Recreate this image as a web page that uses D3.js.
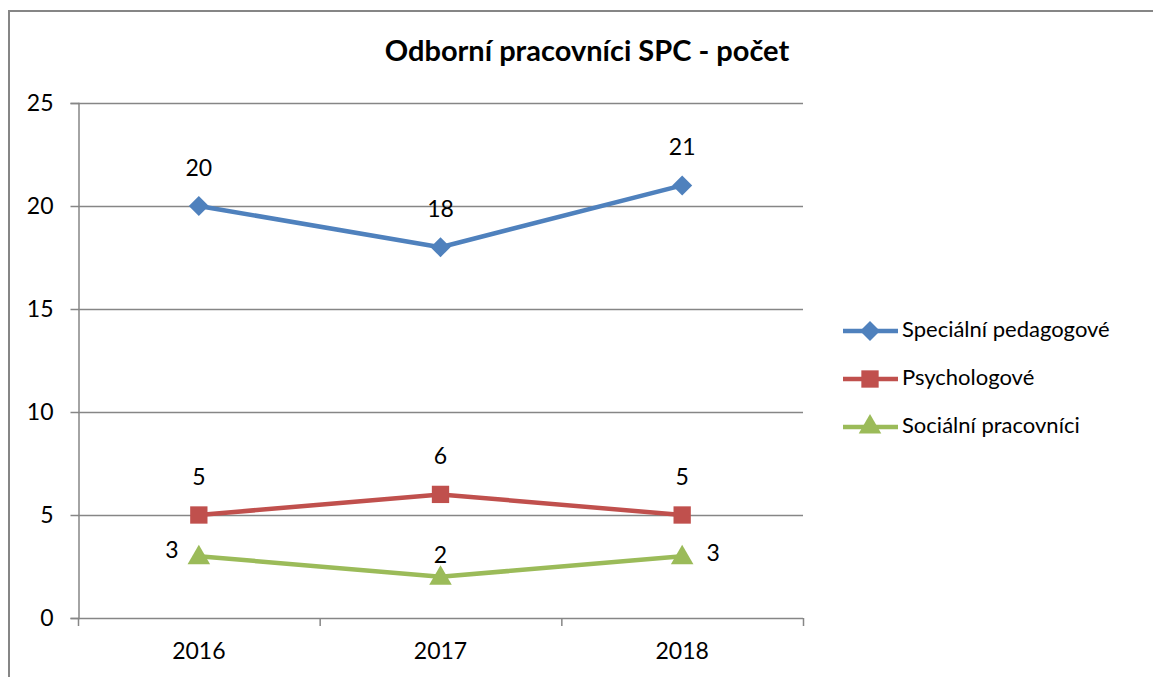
<!DOCTYPE html>
<html>
<head>
<meta charset="utf-8">
<script src="https://cdn.jsdelivr.net/npm/d3@7"></script>
<style>
  body { margin: 0; background: #fff; }
  text { font-family: Lato, "Open Sans", sans-serif; fill: #000; }
</style>
</head>
<body>
<div id="chart"></div>
<script>
const years = ['2016', '2017', '2018'];
const seriesNames = ['Speciální pedagogové', 'Psychologové', 'Sociální pracovníci'];
const specialni = [20, 18, 21];
const psychologove = [5, 6, 5];
const socialni = [3, 2, 3];
const yTicks = [0, 5, 10, 15, 20, 25];

const width = 1153, height = 677;
const margin = { left: 78, right: 350, top: 103, bottom: 59 };
const colors = ['#4F81BD', '#C0504D', '#9BBB59'];
// diamond = square rotated 45 degrees (Excel style)
const symbols = [d3.symbolSquare, d3.symbolSquare, d3.symbolTriangle];
const symSize = [200, 300, 220];
const symRot = [45, 0, 0];
// label offsets per series / point (dx, dy) relative to the point
const labelPos = [
  [[0, -36], [0, -36], [0, -36]],
  [[0, -36], [0, -36], [0, -36]],
  [[-27, -4], [0, -20], [31, -1]]
];

const svg = d3.select('#chart').append('svg')
  .attr('width', width).attr('height', height);

// outer chart border
svg.append('rect')
  .attr('x', 9).attr('y', 11)
  .attr('width', width + 20).attr('height', height + 20)
  .attr('fill', 'none').attr('stroke', '#868686').attr('stroke-width', 2);

const x0 = margin.left, x1 = width - margin.right;
const y0 = height - margin.bottom, y1 = margin.top;

const x = d3.scaleBand().domain(years).range([x0, x1]);
const y = d3.scaleLinear().domain([0, 25]).range([y0, y1]);

// gridlines
svg.append('g').selectAll('line')
  .data(yTicks.filter(d => d > 0)).enter().append('line')
  .attr('x1', x0).attr('x2', x1)
  .attr('y1', d => y(d) + 0.5).attr('y2', d => y(d) + 0.5)
  .attr('stroke', '#868686').attr('stroke-width', 1.5);

// y axis
const yAxis = svg.append('g')
  .attr('transform', `translate(${x0 + 0.5},0)`)
  .call(d3.axisLeft(y).tickValues(yTicks).tickSize(8).tickPadding(17));
yAxis.selectAll('line, path').attr('stroke', '#868686').attr('stroke-width', 1.5);
yAxis.selectAll('text').style('font-size', '23px').attr('fill', '#000');

// x axis
svg.append('line')
  .attr('x1', x0).attr('x2', x1)
  .attr('y1', y0 + 0.5).attr('y2', y0 + 0.5)
  .attr('stroke', '#868686').attr('stroke-width', 1.5);
const bounds = years.map(d => x(d)).concat([x1]);
svg.append('g').selectAll('line')
  .data(bounds).enter().append('line')
  .attr('x1', d => d + 0.5).attr('x2', d => d + 0.5)
  .attr('y1', y0).attr('y2', y0 + 8)
  .attr('stroke', '#868686').attr('stroke-width', 1.5);
svg.append('g').selectAll('text')
  .data(years).enter().append('text')
  .attr('x', d => x(d) + x.bandwidth() / 2)
  .attr('y', y0 + 35)
  .attr('text-anchor', 'middle')
  .attr('dominant-baseline', 'middle')
  .style('font-size', '23px')
  .text(d => d);

// series
const allSeries = [specialni, psychologove, socialni];
const line = d3.line()
  .x((d, i) => x(years[i]) + x.bandwidth() / 2)
  .y(d => y(d));

allSeries.forEach((vals, s) => {
  const g = svg.append('g');
  g.append('path')
    .datum(vals)
    .attr('d', line)
    .attr('fill', 'none')
    .attr('stroke', colors[s])
    .attr('stroke-width', 4.5)
    .attr('stroke-linejoin', 'round');
  g.selectAll('path.m')
    .data(vals).enter().append('path')
    .attr('class', 'm')
    .attr('d', d3.symbol().type(symbols[s]).size(symSize[s]))
    .attr('transform', (d, i) => `translate(${x(years[i]) + x.bandwidth() / 2},${y(d) + (s === 2 ? 1.5 : 0)}) rotate(${symRot[s]})`)
    .attr('fill', colors[s]);
  g.selectAll('text')
    .data(vals).enter().append('text')
    .attr('x', (d, i) => x(years[i]) + x.bandwidth() / 2 + labelPos[s][i][0])
    .attr('y', (d, i) => y(d) + labelPos[s][i][1])
    .attr('text-anchor', 'middle')
    .attr('dominant-baseline', 'middle')
    .style('font-size', '23px')
    .text(d => d);
});

// legend
const legend = svg.append('g');
seriesNames.forEach((name, s) => {
  const ly = 331 + s * 48;
  legend.append('line')
    .attr('x1', 843).attr('x2', 898)
    .attr('y1', ly).attr('y2', ly)
    .attr('stroke', colors[s]).attr('stroke-width', 4.5);
  legend.append('path')
    .attr('d', d3.symbol().type(symbols[s]).size(symSize[s]))
    .attr('transform', `translate(870,${ly}) rotate(${symRot[s]})`)
    .attr('fill', colors[s]);
  legend.append('text')
    .attr('x', 902).attr('y', ly)
    .attr('dominant-baseline', 'middle')
    .style('font-size', '22px')
    .text(name);
});

// title
svg.append('text')
  .attr('x', 587).attr('y', 54)
  .attr('text-anchor', 'middle')
  .attr('dominant-baseline', 'middle')
  .style('font-size', '29px')
  .style('font-weight', 'bold')
  .text('Odborní pracovníci SPC - počet');
</script>
</body>
</html>
